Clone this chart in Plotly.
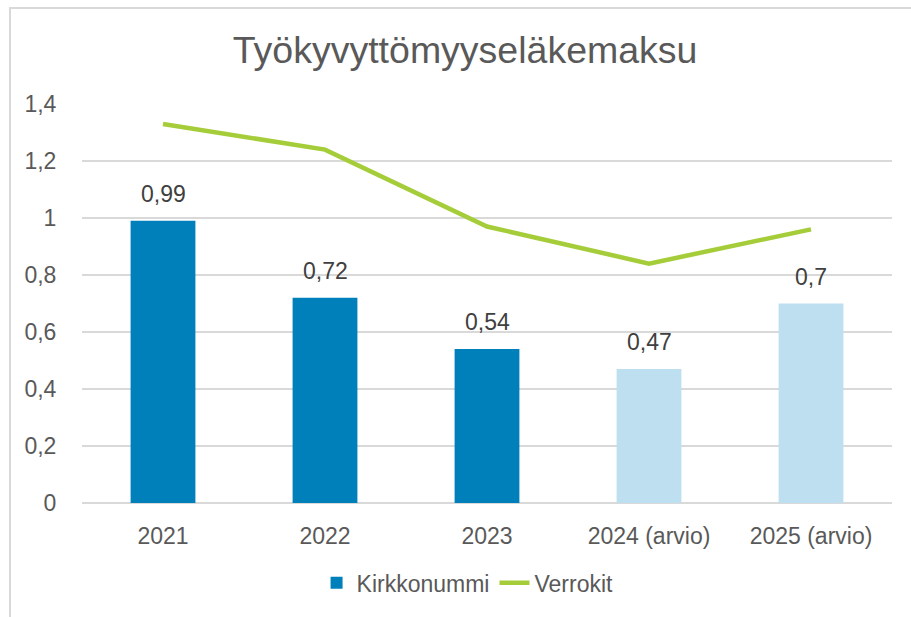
import plotly.graph_objects as go

categories = ["2021", "2022", "2023", "2024 (arvio)", "2025 (arvio)"]
kirkkonummi = [0.99, 0.72, 0.54, 0.47, 0.70]
verrokit = [1.33, 1.24, 0.97, 0.84, 0.96]
bar_colors = ["#0080BA", "#0080BA", "#0080BA", "#BDDFEF", "#BDDFEF"]
y_ticks = [0, 0.2, 0.4, 0.6, 0.8, 1.0, 1.2, 1.4]

TXT = "#595959"
FONT = "Liberation Sans, Arial, sans-serif"

def fmt(v):
    s = ("%g" % v)
    return s.replace(".", ",")

fig = go.Figure()
fig.add_trace(go.Bar(
    x=categories, y=kirkkonummi, name="Kirkkonummi",
    marker=dict(color=bar_colors, line=dict(width=0)),
    width=0.4,
))
fig.add_trace(go.Scatter(
    x=categories, y=verrokit, name="Verrokit", mode="lines",
    line=dict(color="#A5CD39", width=4.5),
))

for i, v in enumerate(kirkkonummi):
    fig.add_annotation(x=i, y=v, text=fmt(v), showarrow=False,
                       yanchor="bottom", yshift=12,
                       font=dict(size=23, color="#404040", family=FONT))

# chart border
fig.add_shape(type="rect", xref="paper", yref="paper",
              x0=-0.0889, x1=1.1, y0=-0.4, y1=1.2406,
              line=dict(color="#D9D9D9", width=2), fillcolor="rgba(0,0,0,0)",
              layer="below")

fig.update_layout(
    width=911, height=617,
    margin=dict(l=82, r=19, t=104, b=114),
    paper_bgcolor="white", plot_bgcolor="white",
    separators=", ",
    font=dict(family=FONT, color=TXT, size=23),
    title=dict(text="Työkyvyttömyyseläkemaksu", x=0.473, xref="paper",
               xanchor="center", y=1 - 50 / 617, yref="container", yanchor="middle",
               font=dict(size=37.5, color=TXT, family=FONT)),
    showlegend=True,
    legend=dict(orientation="h", x=0.476, xanchor="center", y=-0.2, yanchor="middle",
                font=dict(size=23, color=TXT), itemwidth=30, traceorder="normal"),
    bargap=0.6,
)
fig.update_xaxes(showgrid=False, showline=False, ticks="outside", ticklen=12,
                 tickcolor="rgba(0,0,0,0)", tickfont=dict(size=23, color=TXT),
                 range=[-0.5, 4.5])
fig.update_yaxes(range=[0, 1.4], tickvals=y_ticks,
                 ticktext=[fmt(t) for t in y_ticks],
                 showgrid=True, gridcolor="#D9D9D9", gridwidth=1.5,
                 zeroline=True, zerolinecolor="#D9D9D9", zerolinewidth=1.5,
                 ticks="outside", ticklen=20, tickcolor="rgba(0,0,0,0)",
                 tickfont=dict(size=23, color=TXT), showline=False)

fig.write_html("out.html")
